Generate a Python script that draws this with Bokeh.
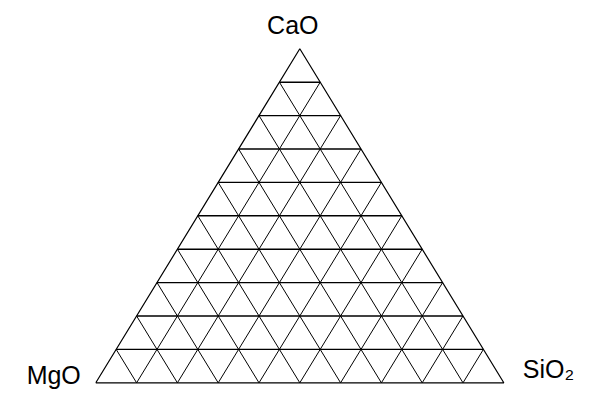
import math
from bokeh.plotting import figure
from bokeh.models import Range1d, Label
from bokeh.embed import file_html
from bokeh.resources import INLINE

# ---- data ----
vertex_labels = ["CaO", "MgO", "SiO\u2082"]   # top, left, right
grid_fractions = [0.1, 0.2, 0.3, 0.4, 0.5, 0.6, 0.7, 0.8, 0.9]

H = math.sqrt(3) / 2


def to_xy(cao, sio2):
    # ternary (CaO top, SiO2 right, MgO left) -> cartesian
    return sio2 + cao / 2.0, cao * H


p = figure(width=594, height=394, output_backend="svg", toolbar_location=None,
           x_range=Range1d(-0.23358, 1.22230), y_range=Range1d(-0.03033, 0.99118),
           min_border=0, outline_line_color=None)
p.axis.visible = False
p.grid.visible = False
p.background_fill_color = "white"
p.border_fill_color = "white"

# horizontal lines (constant CaO)
hx, hy = [], []
for f in grid_fractions:
    x0, y0 = to_xy(f, 0.0)
    x1, y1 = to_xy(f, 1.0 - f)
    hx.append([x0, x1]); hy.append([y0, y1])
p.multi_line(hx, hy, line_color="black", line_width=1.4)

# lines of constant SiO2 (parallel to left side)
dx, dy = [], []
for f in grid_fractions:
    x0, y0 = to_xy(0.0, f)
    x1, y1 = to_xy(1.0 - f, f)
    dx.append([x0, x1]); dy.append([y0, y1])
# lines of constant MgO (parallel to right side)
for f in grid_fractions:
    x0, y0 = to_xy(0.0, 1.0 - f)
    x1, y1 = to_xy(1.0 - f, 0.0)
    dx.append([x0, x1]); dy.append([y0, y1])
p.multi_line(dx, dy, line_color="black", line_width=1.0)

# outer triangle
tx, ty = zip(*[to_xy(0, 0), to_xy(0, 1), to_xy(1, 0), to_xy(0, 0)])
p.line(list(tx), list(ty), line_color="black", line_width=1.2)

# vertex labels
top = to_xy(1, 0); left = to_xy(0, 0); right = to_xy(0, 1)
common = dict(text_font="Liberation Sans", text_font_size="25px", text_color="black",
              text_baseline="alphabetic")
p.add_layout(Label(x=top[0], y=top[1], text=vertex_labels[0], text_align="center",
                   x_offset=-7, y_offset=24, **common))
p.add_layout(Label(x=left[0], y=left[1], text=vertex_labels[1], text_align="right",
                   x_offset=-15, y_offset=8, **common))
p.add_layout(Label(x=right[0], y=right[1], text=vertex_labels[2], text_align="left",
                   x_offset=19, y_offset=14, **common))

open("out.html", "w").write(file_html(p, INLINE))
